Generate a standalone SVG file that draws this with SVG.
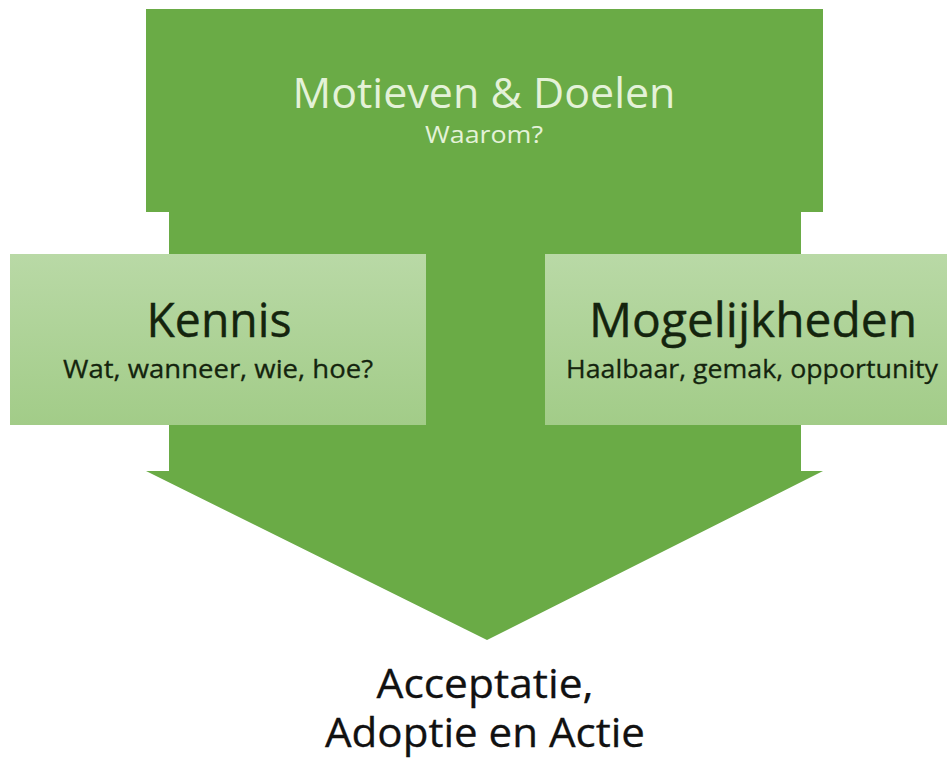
<svg xmlns="http://www.w3.org/2000/svg" width="947" height="758" viewBox="0 0 947 758">
  <defs>
    <linearGradient id="boxGrad" x1="0" y1="0" x2="0" y2="1">
      <stop offset="0" stop-color="#b9d9a6"/>
      <stop offset="1" stop-color="#a2cc88"/>
    </linearGradient>
    <style>
      .arrow { fill: #6aab46; }
      .box { fill: url(#boxGrad); }
      .t { font-family: "Open Sans", "Noto Sans", "Liberation Sans", sans-serif; text-anchor: middle; }
      .title { fill: #e4f2d8; font-size: 42px; }
      .sub1 { fill: #e4f2d8; font-size: 24px; }
      .head { fill: #14240e; font-size: 48px; stroke: #14240e; stroke-width: 0.4px; }
      .sub { fill: #14240e; font-size: 26px; stroke: #14240e; stroke-width: 0.3px; }
      .res { fill: #111111; font-size: 40px; stroke: #111111; stroke-width: 0.3px; }
    </style>
  </defs>
  <rect width="947" height="758" fill="#ffffff"/>
  <g id="motieven">
    <polygon class="arrow" points="146,9 823,9 823,212 801,212 801,471 823,471 487,640 146,471 169,471 169,212 146,212"/>
    <text class="t title" x="484" y="108" textLength="383" lengthAdjust="spacingAndGlyphs">Motieven &amp; Doelen</text>
    <text class="t sub1" x="484" y="143" textLength="118" lengthAdjust="spacingAndGlyphs">Waarom?</text>
  </g>
  <g id="kennis">
    <rect class="box" x="10" y="254" width="416" height="171"/>
    <text class="t head" x="219" y="337" textLength="145" lengthAdjust="spacingAndGlyphs">Kennis</text>
    <text class="t sub" x="218" y="378" textLength="310" lengthAdjust="spacingAndGlyphs">Wat, wanneer, wie, hoe?</text>
  </g>
  <g id="mogelijkheden">
    <rect class="box" x="545" y="254" width="402" height="171"/>
    <text class="t head" x="753" y="337" textLength="328" lengthAdjust="spacingAndGlyphs">Mogelijkheden</text>
    <text class="t sub" x="752" y="378" textLength="372" lengthAdjust="spacingAndGlyphs">Haalbaar, gemak, opportunity</text>
  </g>
  <g id="resultaat">
    <text class="t res" x="485" y="698" textLength="217" lengthAdjust="spacingAndGlyphs">Acceptatie,</text>
    <text class="t res" x="485" y="747" textLength="320" lengthAdjust="spacingAndGlyphs">Adoptie en Actie</text>
  </g>
</svg>
